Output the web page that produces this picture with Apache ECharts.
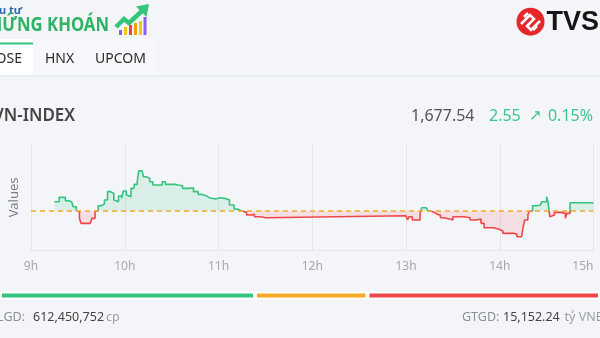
<!DOCTYPE html>
<html>
<head>
<meta charset="utf-8">
<script src="https://cdn.jsdelivr.net/npm/echarts@6/dist/echarts.min.js"></script>
<style>
  html, body { margin: 0; padding: 0; background: #f3f5f9; }
  #chart { width: 600px; height: 338px; }
</style>
</head>
<body>
<div id="chart"></div>
<script>
// Intraday VN-INDEX ticks (time of day, index level)
const times = ["9:15","9:18","9:20","9:22","9:24","9:26","9:27","9:29","9:31","9:32",
  "9:38","9:39","9:41","9:43","9:45","9:47","9:49","9:51","9:53","9:54",
  "9:56","9:58","9:59","10:01","10:02","10:04","10:06","10:08","10:09","10:11",
  "10:12","10:14","10:16","10:18","10:21","10:24","10:26","10:32","10:34","10:37",
  "10:41","10:44","10:47","10:49","10:52","10:54","10:58","11:01","11:04","11:07",
  "11:10","11:12","11:15","11:18","11:21","11:23","11:26","11:28","11:30","13:00",
  "13:01","13:02","13:04","13:07","13:09","13:10","13:13","13:14","13:16","13:18",
  "13:20","13:22","13:24","13:28","13:30","13:33","13:37","13:41","13:45","13:48",
  "13:50","13:53","13:56","13:59","14:02","14:05","14:09","14:11","14:14","14:15",
  "14:16","14:18","14:19","14:21","14:24","14:26","14:27","14:30","14:31","14:32",
  "14:33","14:35","14:39","14:42","14:43","14:45","15:00"];
const values = [1677.85,1679.18,1679.18,1678.16,1677.85,1677.34,1676.32,1674.99,1672.74,1671.21,
  1671.21,1672.74,1674.99,1676.62,1677.14,1678.36,1680.92,1680.40,1678.36,1677.85,
  1679.59,1678.87,1681.12,1679.89,1679.38,1681.94,1683.16,1683.98,1687.35,1687.35,
  1685.51,1685.00,1683.98,1682.96,1682.96,1683.98,1683.16,1682.96,1682.75,1681.94,
  1682.14,1680.92,1680.10,1679.69,1679.08,1678.67,1679.08,1678.87,1678.36,1676.83,
  1675.60,1674.99,1674.58,1673.76,1673.97,1673.25,1673.15,1672.95,1673.56,1673.56,
  1672.23,1673.25,1672.23,1672.23,1674.27,1676.01,1675.81,1674.99,1674.58,1673.97,
  1673.76,1672.95,1672.54,1672.23,1673.25,1673.25,1672.95,1672.23,1672.54,1671.21,
  1669.88,1669.88,1669.47,1668.86,1668.14,1668.14,1667.84,1667.12,1667.63,1670.19,
  1672.23,1673.76,1674.99,1676.62,1676.83,1677.34,1677.85,1679.38,1677.34,1673.25,
  1673.76,1674.58,1674.27,1672.74,1674.27,1677.54,1677.54];

const refValue = 1674.99;          // previous close
const indexValue = 1677.54;
const changeValue = 2.55;
const changePct = 0.15;
const hourTicks = [9, 10, 11, 12, 13, 14, 15];

// Market breadth: advancing, unchanged, declining
const breadthLabels = ["Tăng", "Đứng giá", "Giảm"];
const breadthCounts = [170, 75, 155];

const tabs = ["HOSE", "HNX", "UPCOM"];
const volumeText = "612,450,752";
const turnoverText = "15,152.24";

const GREEN = "#35c47d";
const RED = "#ef4749";
const ORANGE = "#f7a928";

function toMinutes(s) {
  const [h, m] = s.split(":").map(Number);
  return h * 60 + m;
}
const seriesData = times.map((t, i) => [toMinutes(t), values[i]]);
const breadthTotal = breadthCounts.reduce((a, b) => a + b, 0);
const breadthColors = [GREEN, ORANGE, RED];

const FONT = '"Noto Sans", "Open Sans", sans-serif';

function txt(x, y, text, size, fill, opts) {
  opts = opts || {};
  return {
    type: 'text', x: x, y: y, silent: true,
    scaleX: opts.scaleX || 1,
    style: {
      text: text,
      fill: fill,
      font: (opts.weight || 'normal') + ' ' + size + 'px ' + (opts.family || FONT),
      align: opts.align || 'left',
      verticalAlign: 'middle'
    }
  };
}

const graphics = [
  // brand text
  txt(22, 11, 'Đầu tư', 11, '#2a6cb4', { weight: 'bold', align: 'right' }),
  txt(109, 26, 'CHỨNG KHOÁN', 19, '#2db464', { weight: 'bold', align: 'right', scaleX: 0.88 }),
  // brand icon: bars + rising arrow
  { type: 'rect', shape: { x: 119, y: 30, width: 3, height: 5 }, style: { fill: '#8b5cf6' }, silent: true },
  { type: 'rect', shape: { x: 124, y: 27, width: 3, height: 8 }, style: { fill: '#f5c518' }, silent: true },
  { type: 'rect', shape: { x: 129, y: 25, width: 3, height: 10 }, style: { fill: '#ef4444' }, silent: true },
  { type: 'rect', shape: { x: 134, y: 23, width: 3, height: 12 }, style: { fill: '#f59e0b' }, silent: true },
  { type: 'rect', shape: { x: 139, y: 21, width: 3, height: 14 }, style: { fill: '#f5c518' }, silent: true },
  { type: 'rect', shape: { x: 143.5, y: 17, width: 3, height: 18 }, style: { fill: '#8b5cf6' }, silent: true },
  { type: 'polyline', shape: { points: [[116, 27], [124, 19], [129, 23], [142, 11]] },
    style: { stroke: '#34c47a', lineWidth: 4.5, fill: null, lineJoin: 'miter' }, silent: true },
  { type: 'polygon', shape: { points: [[149, 4], [136, 6.5], [146.5, 17]] },
    style: { fill: '#34c47a' }, silent: true },

  // TVS mark
  { type: 'circle', shape: { cx: 530.5, cy: 21.7, r: 14 }, style: { fill: '#e5262a' }, silent: true },
  { type: 'polyline', shape: { points: [[521, 24], [530, 15], [534, 19], [527, 26], [531, 30], [540, 21]] },
    style: { stroke: '#ffffff', lineWidth: 2.6, fill: null, lineJoin: 'miter' }, silent: true },
  { type: 'polyline', shape: { points: [[524, 17], [528, 13]] },
    style: { stroke: '#ffffff', lineWidth: 2.6, fill: null }, silent: true },
  { type: 'polyline', shape: { points: [[533, 30], [537, 26]] },
    style: { stroke: '#ffffff', lineWidth: 2.6, fill: null }, silent: true },
  txt(546.5, 22.5, 'TVS', 27, '#161616', { weight: 'bold', family: '"Liberation Sans", Arial, sans-serif' }),

  // exchange tabs
  { type: 'rect', shape: { x: 33, y: 39, width: 124, height: 36 }, style: { fill: '#f7f8fb' }, silent: true },
  { type: 'rect', shape: { x: 0, y: 39, width: 33, height: 36 }, style: { fill: '#ffffff' }, silent: true },
  { type: 'rect', shape: { x: 0, y: 42.5, width: 33, height: 2 }, style: { fill: GREEN }, silent: true },
  { type: 'rect', shape: { x: 0, y: 75, width: 600, height: 2 }, style: { fill: '#e8edf5' }, silent: true },
  txt(22, 59.5, tabs[0], 14, '#2b2b2b', { align: 'right' }),
  txt(45, 59.5, tabs[1], 14, '#2b2b2b'),
  txt(95, 59.5, tabs[2], 14, '#2b2b2b'),

  // index headline
  txt(-7, 116, 'VN-INDEX', 17, '#454545', { weight: '600' }),
  txt(474.5, 116, indexValue.toLocaleString('en-US', { minimumFractionDigits: 2 }), 16, '#555555', { align: 'right' }),
  txt(489, 116, changeValue.toFixed(2), 16, '#3cc68a'),
  txt(535, 116, '↗', 15, '#3cc68a', { align: 'center' }),
  txt(593, 116, changePct.toFixed(2) + '%', 16, '#3cc68a', { align: 'right' }),

  // totals
  txt(25, 317, 'KLGD:', 12.5, '#8d9199', { align: 'right' }),
  txt(33, 317, volumeText, 12.5, '#444444'),
  txt(106, 317, 'cp', 12.5, '#9a9ea5'),
  txt(462, 317, 'GTGD:', 12.5, '#8d9199'),
  txt(503, 317, turnoverText, 12.5, '#444444'),
  txt(564.5, 317, 'tỷ VNĐ', 12.5, '#9a9ea5')
];

const chart = echarts.init(document.getElementById('chart'), null, { renderer: 'canvas' });

chart.setOption({
  backgroundColor: '#f3f5f9',
  animation: false,
  graphic: graphics,
  grid: [
    { left: 29, right: 6.5, top: 144, height: 106.7, containLabel: false },
    { left: -1, right: -1, top: 291.5, height: 8 }
  ],
  xAxis: [
    {
      type: 'value', gridIndex: 0,
      min: hourTicks[0] * 60, max: hourTicks[hourTicks.length - 1] * 60, interval: 60,
      axisLine: { show: true, lineStyle: { color: '#e3e6eb', width: 1 } },
      axisTick: { show: false },
      splitLine: { show: true, lineStyle: { color: '#e3e6eb', width: 1 } },
      axisLabel: {
        color: '#a4a8af', fontSize: 12, fontFamily: FONT, margin: 10,
        alignMaxLabel: 'right',
        formatter: v => (v / 60) + 'h'
      }
    },
    {
      type: 'value', gridIndex: 1, min: 0, max: breadthTotal, show: false
    }
  ],
  yAxis: [
    {
      type: 'value', gridIndex: 0,
      min: 1662.83, max: 1695.53,
      axisLabel: { show: false },
      axisLine: { show: false },
      axisTick: { show: false },
      splitLine: { show: false },
      name: 'Values', nameLocation: 'middle', nameGap: 10,
      nameTextStyle: { color: '#7d8189', fontSize: 13, fontFamily: FONT }
    },
    {
      type: 'category', gridIndex: 1, data: ['breadth'], show: false
    }
  ],
  visualMap: {
    type: 'piecewise', show: false, seriesIndex: 0, dimension: 1,
    pieces: [
      { gt: 1500, lte: refValue, color: RED },
      { gt: refValue, lte: 1900, color: GREEN }
    ]
  },
  series: [
    {
      type: 'line', name: 'VN-INDEX',
      xAxisIndex: 0, yAxisIndex: 0,
      data: seriesData,
      step: 'end',
      showSymbol: false,
      lineStyle: { width: 1.6 },
      areaStyle: { origin: refValue, opacity: 0.13 },
      markLine: {
        silent: true, symbol: 'none',
        label: { show: false },
        lineStyle: { color: ORANGE, type: [5, 4], width: 1.5 },
        data: [{ yAxis: refValue }]
      }
    }
  ].concat(breadthCounts.map((c, i) => ({
    type: 'bar', name: breadthLabels[i],
    xAxisIndex: 1, yAxisIndex: 1,
    stack: 'breadth',
    barWidth: 8,
    data: [c],
    itemStyle: { color: breadthColors[i], borderColor: '#ffffff', borderWidth: 2 },
    silent: true
  })))
});
</script>
</body>
</html>
